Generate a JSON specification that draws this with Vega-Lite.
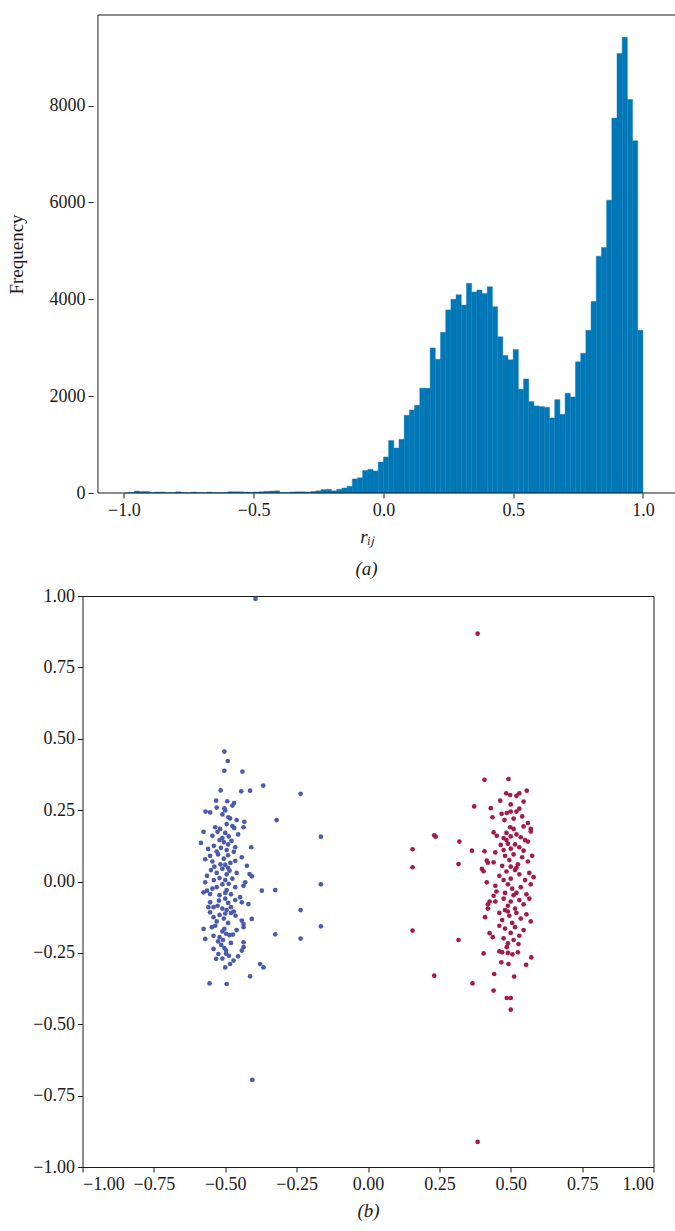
{
  "$schema": "https://vega.github.io/schema/vega-lite/v6.json",
  "padding": {"left": 6.5, "top": 14, "right": 0, "bottom": 0},
  "spacing": 7,
  "datasets": {
    "hist": [
      {"r0": -1.00, "r1": -0.98, "n": 0},
      {"r0": -0.98, "r1": -0.96, "n": 10},
      {"r0": -0.96, "r1": -0.94, "n": 40},
      {"r0": -0.94, "r1": -0.92, "n": 30},
      {"r0": -0.92, "r1": -0.90, "n": 30},
      {"r0": -0.90, "r1": -0.88, "n": 10},
      {"r0": -0.88, "r1": -0.86, "n": 20},
      {"r0": -0.86, "r1": -0.84, "n": 20},
      {"r0": -0.84, "r1": -0.82, "n": 5},
      {"r0": -0.82, "r1": -0.80, "n": 10},
      {"r0": -0.80, "r1": -0.78, "n": 25},
      {"r0": -0.78, "r1": -0.76, "n": 10},
      {"r0": -0.76, "r1": -0.74, "n": 5},
      {"r0": -0.74, "r1": -0.72, "n": 20},
      {"r0": -0.72, "r1": -0.70, "n": 10},
      {"r0": -0.70, "r1": -0.68, "n": 5},
      {"r0": -0.68, "r1": -0.66, "n": 20},
      {"r0": -0.66, "r1": -0.64, "n": 10},
      {"r0": -0.64, "r1": -0.62, "n": 5},
      {"r0": -0.62, "r1": -0.60, "n": 10},
      {"r0": -0.60, "r1": -0.58, "n": 25},
      {"r0": -0.58, "r1": -0.56, "n": 25},
      {"r0": -0.56, "r1": -0.54, "n": 25},
      {"r0": -0.54, "r1": -0.52, "n": 20},
      {"r0": -0.52, "r1": -0.50, "n": 15},
      {"r0": -0.50, "r1": -0.48, "n": 20},
      {"r0": -0.48, "r1": -0.46, "n": 25},
      {"r0": -0.46, "r1": -0.44, "n": 35},
      {"r0": -0.44, "r1": -0.42, "n": 40},
      {"r0": -0.42, "r1": -0.40, "n": 45},
      {"r0": -0.40, "r1": -0.38, "n": 10},
      {"r0": -0.38, "r1": -0.36, "n": 10},
      {"r0": -0.36, "r1": -0.34, "n": 20},
      {"r0": -0.34, "r1": -0.32, "n": 25},
      {"r0": -0.32, "r1": -0.30, "n": 25},
      {"r0": -0.30, "r1": -0.28, "n": 20},
      {"r0": -0.28, "r1": -0.26, "n": 30},
      {"r0": -0.26, "r1": -0.24, "n": 45},
      {"r0": -0.24, "r1": -0.22, "n": 70},
      {"r0": -0.22, "r1": -0.20, "n": 76},
      {"r0": -0.20, "r1": -0.18, "n": 45},
      {"r0": -0.18, "r1": -0.16, "n": 76},
      {"r0": -0.16, "r1": -0.14, "n": 103},
      {"r0": -0.14, "r1": -0.12, "n": 138},
      {"r0": -0.12, "r1": -0.10, "n": 290},
      {"r0": -0.10, "r1": -0.08, "n": 315},
      {"r0": -0.08, "r1": -0.06, "n": 465},
      {"r0": -0.06, "r1": -0.04, "n": 489},
      {"r0": -0.04, "r1": -0.02, "n": 455},
      {"r0": -0.02, "r1": 0.00, "n": 640},
      {"r0": 0.00, "r1": 0.02, "n": 744},
      {"r0": 0.02, "r1": 0.04, "n": 1083},
      {"r0": 0.04, "r1": 0.06, "n": 930},
      {"r0": 0.06, "r1": 0.08, "n": 1109},
      {"r0": 0.08, "r1": 0.10, "n": 1605},
      {"r0": 0.10, "r1": 0.12, "n": 1715},
      {"r0": 0.12, "r1": 0.14, "n": 1811},
      {"r0": 0.14, "r1": 0.16, "n": 2166},
      {"r0": 0.16, "r1": 0.18, "n": 2163},
      {"r0": 0.18, "r1": 0.20, "n": 2996},
      {"r0": 0.20, "r1": 0.22, "n": 2762},
      {"r0": 0.22, "r1": 0.24, "n": 3320},
      {"r0": 0.24, "r1": 0.26, "n": 3781},
      {"r0": 0.26, "r1": 0.28, "n": 4001},
      {"r0": 0.28, "r1": 0.30, "n": 4095},
      {"r0": 0.30, "r1": 0.32, "n": 3880},
      {"r0": 0.32, "r1": 0.34, "n": 4330},
      {"r0": 0.34, "r1": 0.36, "n": 4150},
      {"r0": 0.36, "r1": 0.38, "n": 4190},
      {"r0": 0.38, "r1": 0.40, "n": 4120},
      {"r0": 0.40, "r1": 0.42, "n": 4260},
      {"r0": 0.42, "r1": 0.44, "n": 3846},
      {"r0": 0.44, "r1": 0.46, "n": 3226},
      {"r0": 0.46, "r1": 0.48, "n": 2838},
      {"r0": 0.48, "r1": 0.50, "n": 2750},
      {"r0": 0.50, "r1": 0.52, "n": 2965},
      {"r0": 0.52, "r1": 0.54, "n": 2142},
      {"r0": 0.54, "r1": 0.56, "n": 2355},
      {"r0": 0.56, "r1": 0.58, "n": 1887},
      {"r0": 0.58, "r1": 0.60, "n": 1798},
      {"r0": 0.60, "r1": 0.62, "n": 1784},
      {"r0": 0.62, "r1": 0.64, "n": 1771},
      {"r0": 0.64, "r1": 0.66, "n": 1550},
      {"r0": 0.66, "r1": 0.68, "n": 1928},
      {"r0": 0.68, "r1": 0.70, "n": 1625},
      {"r0": 0.70, "r1": 0.72, "n": 2059},
      {"r0": 0.72, "r1": 0.74, "n": 1983},
      {"r0": 0.74, "r1": 0.76, "n": 2710},
      {"r0": 0.76, "r1": 0.78, "n": 2886},
      {"r0": 0.78, "r1": 0.80, "n": 3358},
      {"r0": 0.80, "r1": 0.82, "n": 3953},
      {"r0": 0.82, "r1": 0.84, "n": 4890},
      {"r0": 0.84, "r1": 0.86, "n": 5069},
      {"r0": 0.86, "r1": 0.88, "n": 6047},
      {"r0": 0.88, "r1": 0.90, "n": 7741},
      {"r0": 0.90, "r1": 0.92, "n": 9077},
      {"r0": 0.92, "r1": 0.94, "n": 9408},
      {"r0": 0.94, "r1": 0.96, "n": 8127},
      {"r0": 0.96, "r1": 0.98, "n": 7273},
      {"r0": 0.98, "r1": 1.00, "n": 3361}
    ],
    "pts": [
      {"g": "b", "x": -0.394, "y": 0.99},
      {"g": "b", "x": -0.405, "y": -0.695},
      {"g": "b", "x": -0.503, "y": 0.455},
      {"g": "b", "x": -0.491, "y": 0.422},
      {"g": "b", "x": -0.503, "y": 0.388},
      {"g": "b", "x": -0.44, "y": 0.385},
      {"g": "b", "x": -0.367, "y": 0.336},
      {"g": "b", "x": -0.516, "y": 0.319},
      {"g": "b", "x": -0.444, "y": 0.316},
      {"g": "b", "x": -0.413, "y": 0.318},
      {"g": "b", "x": -0.236, "y": 0.307},
      {"g": "b", "x": -0.32, "y": 0.215},
      {"g": "b", "x": -0.165, "y": 0.157},
      {"g": "b", "x": -0.165, "y": -0.01},
      {"g": "b", "x": -0.165, "y": -0.157},
      {"g": "b", "x": -0.236, "y": -0.1},
      {"g": "b", "x": -0.236, "y": -0.2},
      {"g": "b", "x": -0.325, "y": -0.03},
      {"g": "b", "x": -0.325, "y": -0.185},
      {"g": "b", "x": -0.372, "y": -0.032},
      {"g": "b", "x": -0.378, "y": -0.289},
      {"g": "b", "x": -0.366, "y": -0.301},
      {"g": "b", "x": -0.413, "y": -0.332},
      {"g": "b", "x": -0.555, "y": -0.357},
      {"g": "b", "x": -0.495, "y": -0.359},
      {"g": "b", "x": -0.407, "y": -0.131},
      {"g": "b", "x": -0.409, "y": 0.12},
      {"g": "b", "x": -0.415, "y": 0.026},
      {"g": "b", "x": -0.407, "y": 0.018},
      {"g": "b", "x": -0.532, "y": 0.283},
      {"g": "b", "x": -0.493, "y": 0.281},
      {"g": "b", "x": -0.469, "y": 0.275},
      {"g": "b", "x": -0.475, "y": 0.266},
      {"g": "b", "x": -0.53, "y": 0.259},
      {"g": "b", "x": -0.503, "y": 0.256},
      {"g": "b", "x": -0.5, "y": 0.249},
      {"g": "b", "x": -0.569, "y": 0.245},
      {"g": "b", "x": -0.553, "y": 0.242},
      {"g": "b", "x": -0.489, "y": 0.225},
      {"g": "b", "x": -0.483, "y": 0.221},
      {"g": "b", "x": -0.433, "y": 0.209},
      {"g": "b", "x": -0.495, "y": 0.201},
      {"g": "b", "x": -0.51, "y": 0.235},
      {"g": "b", "x": -0.46, "y": 0.215},
      {"g": "b", "x": -0.475, "y": 0.194},
      {"g": "b", "x": -0.469, "y": 0.187},
      {"g": "b", "x": -0.436, "y": 0.19},
      {"g": "b", "x": -0.576, "y": 0.174},
      {"g": "b", "x": -0.518, "y": 0.184},
      {"g": "b", "x": -0.527, "y": 0.174},
      {"g": "b", "x": -0.545, "y": 0.16},
      {"g": "b", "x": -0.5, "y": 0.17},
      {"g": "b", "x": -0.488, "y": 0.158},
      {"g": "b", "x": -0.51, "y": 0.152},
      {"g": "b", "x": -0.455, "y": 0.165},
      {"g": "b", "x": -0.535, "y": 0.19},
      {"g": "b", "x": -0.56, "y": 0.114},
      {"g": "b", "x": -0.52, "y": 0.145},
      {"g": "b", "x": -0.505, "y": 0.138},
      {"g": "b", "x": -0.49, "y": 0.13},
      {"g": "b", "x": -0.478, "y": 0.142},
      {"g": "b", "x": -0.465, "y": 0.12},
      {"g": "b", "x": -0.54, "y": 0.125},
      {"g": "b", "x": -0.53, "y": 0.105},
      {"g": "b", "x": -0.495, "y": 0.11},
      {"g": "b", "x": -0.515, "y": 0.118},
      {"g": "b", "x": -0.47, "y": 0.104},
      {"g": "b", "x": -0.585, "y": 0.135},
      {"g": "b", "x": -0.553, "y": 0.09},
      {"g": "b", "x": -0.442, "y": 0.085},
      {"g": "b", "x": -0.545, "y": 0.07},
      {"g": "b", "x": -0.525, "y": 0.095},
      {"g": "b", "x": -0.505, "y": 0.08},
      {"g": "b", "x": -0.49, "y": 0.092},
      {"g": "b", "x": -0.482, "y": 0.065},
      {"g": "b", "x": -0.5, "y": 0.058},
      {"g": "b", "x": -0.465, "y": 0.072},
      {"g": "b", "x": -0.517, "y": 0.06},
      {"g": "b", "x": -0.57, "y": 0.078},
      {"g": "b", "x": -0.424, "y": 0.055},
      {"g": "b", "x": -0.538, "y": 0.052},
      {"g": "b", "x": -0.564, "y": 0.02},
      {"g": "b", "x": -0.55, "y": 0.04},
      {"g": "b", "x": -0.53, "y": 0.03},
      {"g": "b", "x": -0.51, "y": 0.045},
      {"g": "b", "x": -0.495, "y": 0.025},
      {"g": "b", "x": -0.485, "y": 0.038},
      {"g": "b", "x": -0.475, "y": 0.01},
      {"g": "b", "x": -0.5, "y": 0.005},
      {"g": "b", "x": -0.52, "y": 0.012},
      {"g": "b", "x": -0.46, "y": 0.03},
      {"g": "b", "x": -0.54, "y": 0.005},
      {"g": "b", "x": -0.49, "y": 0.048},
      {"g": "b", "x": -0.57, "y": -0.003},
      {"g": "b", "x": -0.43, "y": -0.003},
      {"g": "b", "x": -0.436, "y": -0.015},
      {"g": "b", "x": -0.564, "y": -0.032},
      {"g": "b", "x": -0.576, "y": -0.038},
      {"g": "b", "x": -0.53, "y": -0.02},
      {"g": "b", "x": -0.51, "y": -0.01},
      {"g": "b", "x": -0.495, "y": -0.03},
      {"g": "b", "x": -0.48, "y": -0.045},
      {"g": "b", "x": -0.5, "y": -0.04},
      {"g": "b", "x": -0.52, "y": -0.048},
      {"g": "b", "x": -0.465, "y": -0.02},
      {"g": "b", "x": -0.545, "y": -0.025},
      {"g": "b", "x": -0.488, "y": -0.008},
      {"g": "b", "x": -0.553, "y": -0.044},
      {"g": "b", "x": -0.448, "y": -0.055},
      {"g": "b", "x": -0.442, "y": -0.073},
      {"g": "b", "x": -0.553, "y": -0.073},
      {"g": "b", "x": -0.541, "y": -0.09},
      {"g": "b", "x": -0.559, "y": -0.09},
      {"g": "b", "x": -0.522, "y": -0.067},
      {"g": "b", "x": -0.527, "y": -0.085},
      {"g": "b", "x": -0.419, "y": -0.079},
      {"g": "b", "x": -0.5, "y": -0.06},
      {"g": "b", "x": -0.49, "y": -0.075},
      {"g": "b", "x": -0.48, "y": -0.09},
      {"g": "b", "x": -0.51, "y": -0.095},
      {"g": "b", "x": -0.465, "y": -0.065},
      {"g": "b", "x": -0.495, "y": -0.1},
      {"g": "b", "x": -0.47, "y": -0.105},
      {"g": "b", "x": -0.464, "y": -0.12},
      {"g": "b", "x": -0.553, "y": -0.108},
      {"g": "b", "x": -0.541, "y": -0.125},
      {"g": "b", "x": -0.53, "y": -0.14},
      {"g": "b", "x": -0.52, "y": -0.117},
      {"g": "b", "x": -0.505, "y": -0.13},
      {"g": "b", "x": -0.49, "y": -0.145},
      {"g": "b", "x": -0.48, "y": -0.11},
      {"g": "b", "x": -0.442, "y": -0.137},
      {"g": "b", "x": -0.436, "y": -0.149},
      {"g": "b", "x": -0.5, "y": -0.112},
      {"g": "b", "x": -0.436, "y": -0.16},
      {"g": "b", "x": -0.576, "y": -0.166},
      {"g": "b", "x": -0.547, "y": -0.16},
      {"g": "b", "x": -0.535, "y": -0.155},
      {"g": "b", "x": -0.503, "y": -0.166},
      {"g": "b", "x": -0.497, "y": -0.183},
      {"g": "b", "x": -0.485, "y": -0.188},
      {"g": "b", "x": -0.473, "y": -0.186},
      {"g": "b", "x": -0.541, "y": -0.19},
      {"g": "b", "x": -0.51, "y": -0.175},
      {"g": "b", "x": -0.52, "y": -0.195},
      {"g": "b", "x": -0.46, "y": -0.17},
      {"g": "b", "x": -0.57, "y": -0.201},
      {"g": "b", "x": -0.508, "y": -0.205},
      {"g": "b", "x": -0.514, "y": -0.222},
      {"g": "b", "x": -0.503, "y": -0.233},
      {"g": "b", "x": -0.497, "y": -0.242},
      {"g": "b", "x": -0.497, "y": -0.253},
      {"g": "b", "x": -0.436, "y": -0.213},
      {"g": "b", "x": -0.436, "y": -0.23},
      {"g": "b", "x": -0.442, "y": -0.242},
      {"g": "b", "x": -0.541, "y": -0.236},
      {"g": "b", "x": -0.48, "y": -0.215},
      {"g": "b", "x": -0.525, "y": -0.21},
      {"g": "b", "x": -0.524, "y": -0.254},
      {"g": "b", "x": -0.532, "y": -0.271},
      {"g": "b", "x": -0.471, "y": -0.277},
      {"g": "b", "x": -0.483, "y": -0.289},
      {"g": "b", "x": -0.5, "y": -0.301},
      {"g": "b", "x": -0.455, "y": -0.262},
      {"g": "b", "x": -0.51, "y": -0.27},
      {"g": "b", "x": -0.487, "y": -0.26},
      {"g": "r", "x": 0.384, "y": 0.868},
      {"g": "r", "x": 0.384, "y": -0.912},
      {"g": "r", "x": 0.156, "y": 0.113},
      {"g": "r", "x": 0.156, "y": 0.05},
      {"g": "r", "x": 0.156, "y": -0.172},
      {"g": "r", "x": 0.232, "y": 0.162},
      {"g": "r", "x": 0.237, "y": 0.157},
      {"g": "r", "x": 0.232, "y": -0.33},
      {"g": "r", "x": 0.32, "y": 0.14},
      {"g": "r", "x": 0.317, "y": 0.061},
      {"g": "r", "x": 0.317, "y": -0.205},
      {"g": "r", "x": 0.366, "y": -0.357},
      {"g": "r", "x": 0.44, "y": -0.382},
      {"g": "r", "x": 0.486, "y": -0.408},
      {"g": "r", "x": 0.5, "y": -0.408},
      {"g": "r", "x": 0.5, "y": -0.449},
      {"g": "r", "x": 0.512, "y": -0.333},
      {"g": "r", "x": 0.442, "y": -0.324},
      {"g": "r", "x": 0.572, "y": -0.266},
      {"g": "r", "x": 0.554, "y": -0.292},
      {"g": "r", "x": 0.405, "y": -0.252},
      {"g": "r", "x": 0.408, "y": 0.356},
      {"g": "r", "x": 0.492, "y": 0.359},
      {"g": "r", "x": 0.372, "y": 0.263},
      {"g": "r", "x": 0.364, "y": 0.108},
      {"g": "r", "x": 0.484, "y": 0.309},
      {"g": "r", "x": 0.498, "y": 0.303},
      {"g": "r", "x": 0.53, "y": 0.309},
      {"g": "r", "x": 0.556, "y": 0.318},
      {"g": "r", "x": 0.52, "y": 0.3},
      {"g": "r", "x": 0.463, "y": 0.283},
      {"g": "r", "x": 0.43, "y": 0.257},
      {"g": "r", "x": 0.53, "y": 0.255},
      {"g": "r", "x": 0.5, "y": 0.27},
      {"g": "r", "x": 0.545, "y": 0.28},
      {"g": "r", "x": 0.436, "y": 0.225},
      {"g": "r", "x": 0.468, "y": 0.237},
      {"g": "r", "x": 0.486, "y": 0.24},
      {"g": "r", "x": 0.5, "y": 0.245},
      {"g": "r", "x": 0.52, "y": 0.245},
      {"g": "r", "x": 0.478, "y": 0.215},
      {"g": "r", "x": 0.51, "y": 0.22},
      {"g": "r", "x": 0.54, "y": 0.228},
      {"g": "r", "x": 0.56, "y": 0.205},
      {"g": "r", "x": 0.44, "y": 0.172},
      {"g": "r", "x": 0.451, "y": 0.16},
      {"g": "r", "x": 0.498, "y": 0.19},
      {"g": "r", "x": 0.51, "y": 0.184},
      {"g": "r", "x": 0.545, "y": 0.193},
      {"g": "r", "x": 0.57, "y": 0.184},
      {"g": "r", "x": 0.57, "y": 0.175},
      {"g": "r", "x": 0.485, "y": 0.17},
      {"g": "r", "x": 0.52, "y": 0.165},
      {"g": "r", "x": 0.535, "y": 0.155},
      {"g": "r", "x": 0.475, "y": 0.152},
      {"g": "r", "x": 0.5, "y": 0.158},
      {"g": "r", "x": 0.485, "y": 0.145},
      {"g": "r", "x": 0.49, "y": 0.132},
      {"g": "r", "x": 0.55, "y": 0.145},
      {"g": "r", "x": 0.56, "y": 0.14},
      {"g": "r", "x": 0.515, "y": 0.13},
      {"g": "r", "x": 0.53, "y": 0.12},
      {"g": "r", "x": 0.475, "y": 0.11},
      {"g": "r", "x": 0.408, "y": 0.106},
      {"g": "r", "x": 0.446, "y": 0.102},
      {"g": "r", "x": 0.5, "y": 0.115},
      {"g": "r", "x": 0.545, "y": 0.108},
      {"g": "r", "x": 0.465, "y": 0.128},
      {"g": "r", "x": 0.416, "y": 0.073},
      {"g": "r", "x": 0.42, "y": 0.066},
      {"g": "r", "x": 0.44, "y": 0.067},
      {"g": "r", "x": 0.48, "y": 0.09},
      {"g": "r", "x": 0.495, "y": 0.075},
      {"g": "r", "x": 0.51, "y": 0.095},
      {"g": "r", "x": 0.525, "y": 0.06},
      {"g": "r", "x": 0.54, "y": 0.085},
      {"g": "r", "x": 0.56, "y": 0.07},
      {"g": "r", "x": 0.575, "y": 0.09},
      {"g": "r", "x": 0.47, "y": 0.055},
      {"g": "r", "x": 0.5, "y": 0.052},
      {"g": "r", "x": 0.399, "y": 0.044},
      {"g": "r", "x": 0.405, "y": 0.036},
      {"g": "r", "x": 0.46, "y": 0.02},
      {"g": "r", "x": 0.485, "y": 0.035},
      {"g": "r", "x": 0.5, "y": 0.01},
      {"g": "r", "x": 0.515, "y": 0.04},
      {"g": "r", "x": 0.53, "y": 0.025},
      {"g": "r", "x": 0.55, "y": 0.005},
      {"g": "r", "x": 0.565, "y": 0.03},
      {"g": "r", "x": 0.475, "y": 0.005},
      {"g": "r", "x": 0.52, "y": 0.048},
      {"g": "r", "x": 0.58, "y": 0.015},
      {"g": "r", "x": 0.416, "y": -0.003},
      {"g": "r", "x": 0.446, "y": -0.015},
      {"g": "r", "x": 0.45, "y": -0.035},
      {"g": "r", "x": 0.44, "y": -0.05},
      {"g": "r", "x": 0.49, "y": -0.01},
      {"g": "r", "x": 0.505, "y": -0.025},
      {"g": "r", "x": 0.52, "y": -0.04},
      {"g": "r", "x": 0.535, "y": -0.02},
      {"g": "r", "x": 0.555, "y": -0.045},
      {"g": "r", "x": 0.57, "y": -0.01},
      {"g": "r", "x": 0.48, "y": -0.04},
      {"g": "r", "x": 0.51, "y": -0.048},
      {"g": "r", "x": 0.426, "y": -0.07},
      {"g": "r", "x": 0.42, "y": -0.08},
      {"g": "r", "x": 0.42, "y": -0.095},
      {"g": "r", "x": 0.446, "y": -0.07},
      {"g": "r", "x": 0.475, "y": -0.06},
      {"g": "r", "x": 0.49, "y": -0.085},
      {"g": "r", "x": 0.5, "y": -0.07},
      {"g": "r", "x": 0.515, "y": -0.095},
      {"g": "r", "x": 0.53, "y": -0.065},
      {"g": "r", "x": 0.545, "y": -0.08},
      {"g": "r", "x": 0.565, "y": -0.06},
      {"g": "r", "x": 0.48, "y": -0.1},
      {"g": "r", "x": 0.41, "y": -0.125},
      {"g": "r", "x": 0.46, "y": -0.11},
      {"g": "r", "x": 0.47, "y": -0.135},
      {"g": "r", "x": 0.495, "y": -0.12},
      {"g": "r", "x": 0.505, "y": -0.145},
      {"g": "r", "x": 0.52, "y": -0.11},
      {"g": "r", "x": 0.535, "y": -0.13},
      {"g": "r", "x": 0.555, "y": -0.115},
      {"g": "r", "x": 0.57, "y": -0.14},
      {"g": "r", "x": 0.49, "y": -0.105},
      {"g": "r", "x": 0.426, "y": -0.181},
      {"g": "r", "x": 0.437, "y": -0.195},
      {"g": "r", "x": 0.475, "y": -0.199},
      {"g": "r", "x": 0.48, "y": -0.165},
      {"g": "r", "x": 0.5, "y": -0.18},
      {"g": "r", "x": 0.515, "y": -0.16},
      {"g": "r", "x": 0.53, "y": -0.19},
      {"g": "r", "x": 0.545, "y": -0.17},
      {"g": "r", "x": 0.46, "y": -0.155},
      {"g": "r", "x": 0.486, "y": -0.23},
      {"g": "r", "x": 0.49, "y": -0.217},
      {"g": "r", "x": 0.527, "y": -0.219},
      {"g": "r", "x": 0.51, "y": -0.205},
      {"g": "r", "x": 0.46, "y": -0.245},
      {"g": "r", "x": 0.525, "y": -0.248},
      {"g": "r", "x": 0.47, "y": -0.248},
      {"g": "r", "x": 0.49, "y": -0.25},
      {"g": "r", "x": 0.506, "y": -0.255},
      {"g": "r", "x": 0.467, "y": -0.283},
      {"g": "r", "x": 0.492, "y": -0.289}
    ]
  },
  "vconcat": [
    {
      "width": 591.4,
      "height": 478,
      "view": {"stroke": null},
      "title": {
        "text": "(a)",
        "orient": "bottom",
        "frame": "group",
        "anchor": "middle",
        "dx": -11.7,
        "offset": 14,
        "fontSize": 19,
        "fontStyle": "italic",
        "fontWeight": "normal",
        "font": "Liberation Serif",
        "color": "#1a1a1a"
      },
      "layer": [
        {
          "data": {"name": "hist"},
          "mark": {"type": "bar", "orient": "vertical", "color": "#0077b6", "stroke": "#0077b6", "strokeWidth": 0.4},
          "encoding": {
            "x": {
              "field": "r0",
              "type": "quantitative",
              "scale": {"domain": [-1.1402, 1.1], "nice": false, "zero": false},
              "axis": {
                "values": [-1, -0.5, 0, 0.5, 1],
                "format": ".1f",
                "title": "rᵢⱼ",
                "titleFontStyle": "italic",
                "titleX": 284,
                "titlePadding": 8
              }
            },
            "x2": {"field": "r1"},
            "y": {
              "field": "n",
              "type": "quantitative",
              "scale": {"domain": [0, 9870], "nice": false},
              "axis": {
                "values": [0, 2000, 4000, 6000, 8000],
                "format": "d",
                "title": "Frequency",
                "offset": -10.6,
                "titleX": -66.6
              }
            },
            "y2": {"datum": 0}
          }
        },
        {
          "data": {"values": [{}]},
          "mark": {"type": "rect", "fillOpacity": 0, "stroke": "#1a1a1a", "strokeWidth": 1},
          "encoding": {
            "x": {"datum": -1.1},
            "x2": {"datum": 1.25},
            "y": {"datum": 0},
            "y2": {"datum": 9870}
          }
        }
      ]
    },
    {
      "width": 571,
      "height": 571,
      "data": {"name": "pts"},
      "mark": {"type": "point", "filled": true, "size": 22, "opacity": 1},
      "encoding": {
        "x": {
          "field": "x",
          "type": "quantitative",
          "scale": {"domain": [-1, 1], "nice": false},
          "axis": {
            "values": [-1, -0.75, -0.5, -0.25, 0, 0.25, 0.5, 0.75, 1],
            "format": ".2f",
            "title": "(b)",
            "titleFontStyle": "italic",
            "titlePadding": 8
          }
        },
        "y": {
          "field": "y",
          "type": "quantitative",
          "scale": {"domain": [-1, 1], "nice": false},
          "axis": {
            "values": [-1, -0.75, -0.5, -0.25, 0, 0.25, 0.5, 0.75, 1],
            "format": ".2f",
            "title": null
          }
        },
        "color": {
          "field": "g",
          "type": "nominal",
          "scale": {"domain": ["b", "r"], "range": ["#4a5aad", "#a41a4b"]},
          "legend": null
        }
      }
    }
  ],
  "config": {
    "font": "Liberation Serif",
    "view": {"stroke": "#1a1a1a", "strokeWidth": 1},
    "axis": {
      "grid": false,
      "domain": false,
      "labelFont": "Liberation Serif",
      "labelFontSize": 18,
      "labelColor": "#1a1a1a",
      "labelPadding": 3,
      "tickColor": "#1a1a1a",
      "tickSize": 5,
      "titleFont": "Liberation Serif",
      "titleFontSize": 19,
      "titleFontWeight": "normal",
      "titleColor": "#1a1a1a"
    }
  }
}
